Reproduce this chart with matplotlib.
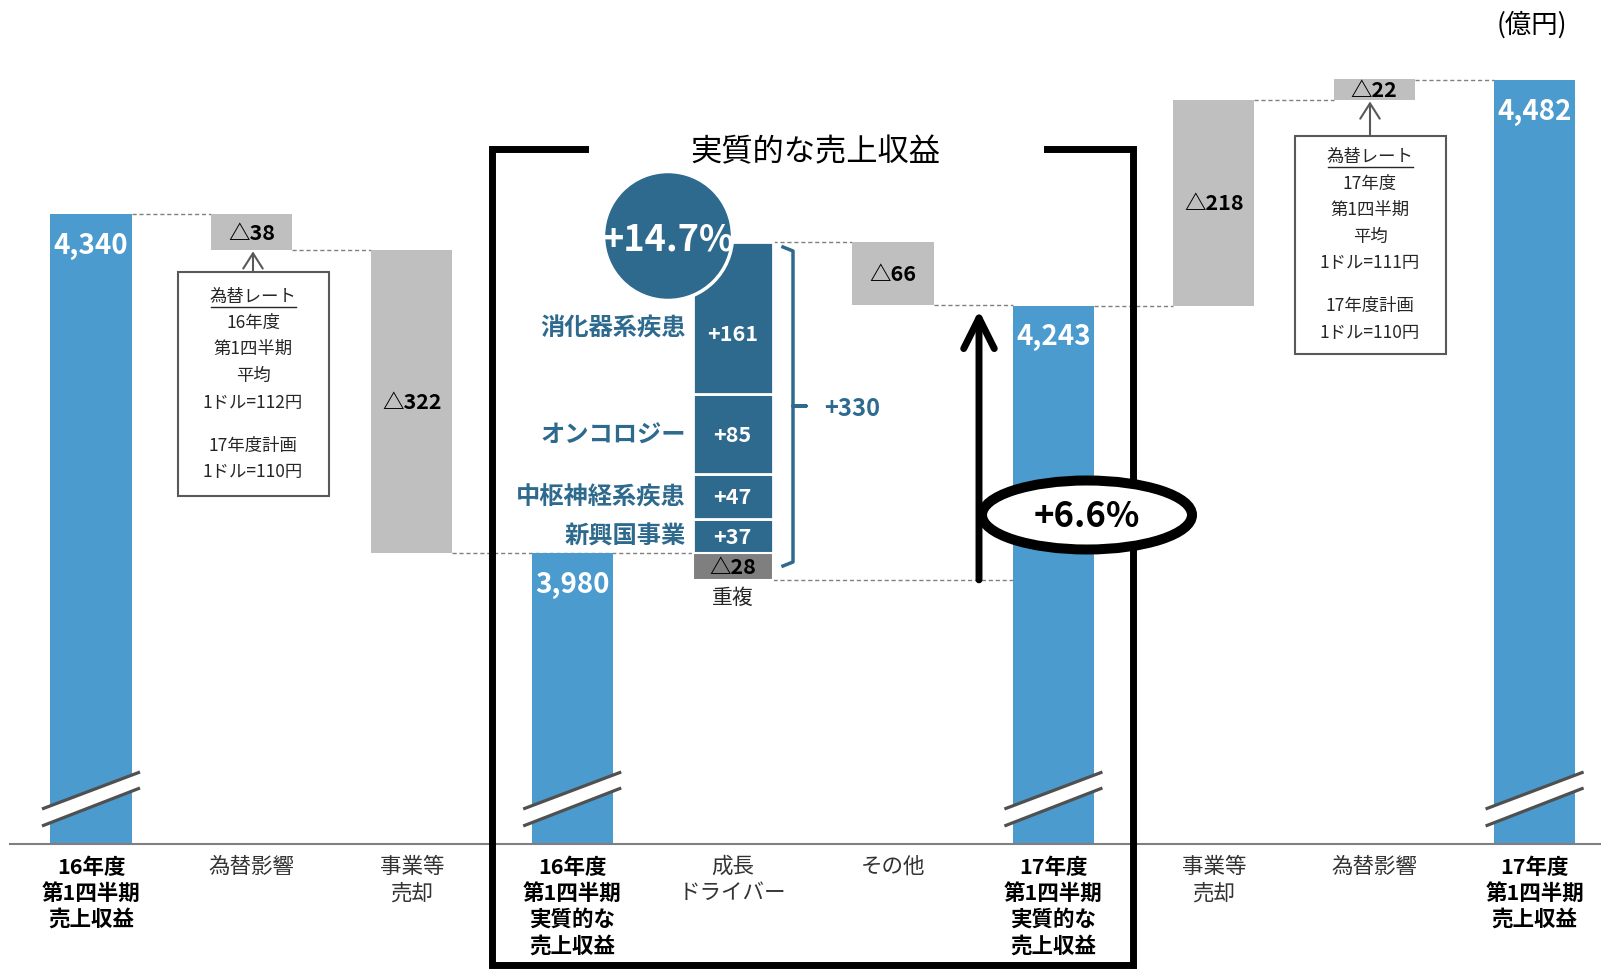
import matplotlib.pyplot as plt
from matplotlib.patches import Ellipse, Rectangle, Polygon

plt.rcParams['font.family'] = ['Noto Sans CJK JP', 'DejaVu Sans']

# データ (億円)
categories = ['16年度\n第1四半期\n売上収益', '為替影響', '事業等\n売却',
              '16年度\n第1四半期\n実質的な\n売上収益', '成長\nドライバー', 'その他',
              '17年度\n第1四半期\n実質的な\n売上収益', '事業等\n売却', '為替影響',
              '17年度\n第1四半期\n売上収益']
total_pos = [0, 3, 6, 9]
totals = [4340, 3980, 4243, 4482]
fx_16 = -38
divest_16 = -322
growth_names = ['新興国事業', '中枢神経系疾患', 'オンコロジー', '消化器系疾患']
growth_vals = [37, 47, 85, 161]
overlap = -28
other = -66
divest_17 = -218
fx_17 = -22
growth_pct = '+14.7%'
real_pct = '+6.6%'
box1_lines = ['為替レート', '16年度', '第1四半期', '平均', '1ドル=112円', '17年度計画', '1ドル=110円']
box2_lines = ['為替レート', '17年度', '第1四半期', '平均', '1ドル=111円', '17年度計画', '1ドル=110円']

BLUE = '#4B9BCF'
GRAY = '#BFBFBF'
TEAL = '#2E6A8E'
DGRAY = '#7F7F7F'

# レイアウト (ピクセル -> データ座標)
W, H = 1601, 970
STEP, X_FIRST = 160.4, 91
Y0, Y1 = 3539.2, 4568.2
BASE = 3672.3
SY = (Y1 - Y0) / H


def X(px):
    return (px - X_FIRST) / STEP


def Y(py):
    return Y1 - py * SY


fig = plt.figure(figsize=(W / 100, H / 100), dpi=100)
ax = fig.add_axes([0, 0, 1, 1])
ax.set_xlim(X(0), X(W))
ax.set_ylim(Y0, Y1)
ax.axis('off')

bw = 0.505

# 合計の棒
for i, v in zip(total_pos, totals):
    ax.bar(i, v - BASE, bottom=BASE, width=bw, color=BLUE, zorder=2)
    ax.annotate(f'{v:,}', (i, v), xytext=(0, -22), textcoords='offset points',
                ha='center', va='center', color='white', fontsize=20,
                fontweight='bold', zorder=6)
    # 省略記号
    d = 49 / STEP
    up = [Y(810), Y(773)]
    lo = [Y(827), Y(789)]
    ax.add_patch(Polygon([(i - d, up[0]), (i + d, up[1]), (i + d, lo[1]), (i - d, lo[0])],
                         closed=True, facecolor='white', edgecolor='none', zorder=3))
    ax.plot([i - d, i + d], up, color='#505050', lw=2.3, zorder=4, solid_capstyle='butt')
    ax.plot([i - d, i + d], lo, color='#505050', lw=2.3, zorder=4, solid_capstyle='butt')

# 成長ドライバーの積み上げ
label_shift = [0, 0, 0, -11]   # 円に隠れる一番上だけ少し下げる (pt)
bottom = totals[1]
for name, v, sh in zip(growth_names, growth_vals, label_shift):
    ax.bar(4, v, bottom=bottom, width=0.5, color=TEAL, edgecolor='white', linewidth=2, zorder=2)
    mid = bottom + v / 2
    ax.annotate(f'+{v}', (4, mid), xytext=(0, sh), textcoords='offset points',
                ha='center', va='center', color='white',
                fontsize=15.5, fontweight='bold', zorder=6)
    ax.annotate(name, (X(686), mid), xytext=(0, sh * 0.6), textcoords='offset points',
                ha='right', va='center', color=TEAL,
                fontsize=17.5, fontweight='bold', zorder=6)
    bottom += v
stack_top = bottom
ax.bar(4, overlap, bottom=totals[1], width=0.5, color=DGRAY, edgecolor='white', linewidth=1.5, zorder=2)
ax.text(4, totals[1] + overlap / 2, f'△{abs(overlap)}', ha='center', va='center',
        fontsize=15.5, fontweight='bold', zorder=6)
ax.annotate('重複', (4, totals[1] + overlap), xytext=(0, -12), textcoords='offset points',
            ha='center', va='center', fontsize=15, color='#262626')

# 増減の棒
steps = [(1, totals[0], fx_16, fx_16),
         (2, totals[0] + fx_16, divest_16, divest_16),
         (5, stack_top, other, other),
         (7, totals[2], -divest_17, divest_17),
         (8, totals[2] - divest_17, -fx_17, fx_17)]
for pos, start, delta, shown in steps:
    ax.bar(pos, delta, bottom=start, width=bw, color=GRAY, zorder=2)
    ax.text(pos, start + delta / 2, f'△{abs(shown)}', ha='center', va='center',
            fontsize=15.5, fontweight='bold', zorder=6)

# 点線
conns = [(0, 1, totals[0]), (1, 2, totals[0] + fx_16), (2, 4, totals[1]),
         (4, 5, stack_top), (4, 6, totals[1] + overlap), (5, 6, stack_top + other),
         (6, 7, totals[2]), (7, 8, totals[2] - divest_17), (8, 9, totals[3])]
for a, b, lvl in conns:
    ax.hlines(lvl, a + bw / 2, b - bw / 2, colors='#808080', linestyles=(0, (3, 2)),
              lw=1, zorder=1)

# 基準線
ax.plot([X(10), X(W)], [BASE, BASE], color='#7F7F7F', lw=1.5, zorder=4)

# カテゴリラベル
for i, lab in enumerate(categories):
    bold = i in total_pos
    for k, line in enumerate(lab.split('\n')):
        ax.text(i, Y(867 + 26.3 * k), line, ha='center', va='center', fontsize=15.5,
                fontweight='bold' if bold else 'normal',
                color='black' if bold else '#333333')

# 枠と見出し
ax.plot([X(585), X(492), X(492), X(1133), X(1133), X(1047)],
        [Y(150), Y(150), Y(966), Y(966), Y(150), Y(150)],
        color='black', lw=5, solid_joinstyle='miter', zorder=5)
ax.text(X(815), Y(152), '実質的な売上収益', ha='center', va='center', fontsize=22.5)
ax.text(X(1532), Y(25), '(億円)', ha='center', va='center', fontsize=19)

# +14.7% の円
ax.add_patch(Ellipse((X(668), Y(237)), 129 / STEP, 129 * SY, facecolor=TEAL,
                     edgecolor='white', lw=2.5, zorder=5))
ax.text(X(668), Y(240), growth_pct, ha='center', va='center', color='white',
        fontsize=26, fontweight='bold', zorder=6)

# +330 の括弧
bx = [X(783), X(793), X(793), X(806), X(793), X(793), X(783)]
by = [Y(248), Y(252), Y(407), Y(407), Y(407), Y(563), Y(567)]
ax.plot(bx, by, color=TEAL, lw=2.5, zorder=4)
ax.text(X(852), Y(409), f'+{sum(growth_vals)}', ha='center', va='center',
        color=TEAL, fontsize=17, fontweight='semibold', zorder=6)

# 矢印と +6.6%
ax.annotate('', xy=(X(979), totals[2] - 5), xytext=(X(979), totals[1] + overlap),
            arrowprops=dict(arrowstyle='->,head_length=2.2,head_width=1.1', lw=5,
                            color='black', mutation_scale=10, shrinkA=0, shrinkB=0),
            zorder=5)
ax.add_patch(Ellipse((X(1087), Y(516)), 210 / STEP, 69 * SY, facecolor='white',
                     edgecolor='black', lw=7.2, zorder=6))
ax.text(X(1087), Y(516), real_pct, ha='center', va='center', fontsize=25,
        fontweight='bold', zorder=7)


# 為替レートの注記
def note_box(left, top, right, bottom_px, lines, ys, cx, ul, arrow_to):
    ax.add_patch(Rectangle((X(left), Y(bottom_px)), (right - left) / STEP,
                           (bottom_px - top) * SY, facecolor='white',
                           edgecolor='#595959', lw=1.5, zorder=4))
    for t, yy in zip(lines, ys):
        ax.text(X(cx), Y(yy), t, ha='center', va='center', fontsize=12.5,
                color='#262626', zorder=5)
    ax.plot([X(ul[0]), X(ul[1])], [Y(ys[0] + 11)] * 2, color='#262626', lw=1, zorder=5)
    ax.annotate('', xy=(X(cx), arrow_to), xytext=(X(cx), Y(top)),
                arrowprops=dict(arrowstyle='->,head_length=1.1,head_width=0.7', lw=1.5,
                                color='#595959', mutation_scale=10, shrinkA=0, shrinkB=1))


note_box(178, 273, 329, 497, box1_lines, [297, 323, 349, 376, 403, 446, 472], 253,
         (211, 296), totals[0] + fx_16)
note_box(1295, 137, 1446, 355, box2_lines, [157, 184, 210, 237, 263, 306, 333], 1370,
         (1328, 1413), totals[2] - divest_17)

fig.savefig('out.png', dpi=100)
